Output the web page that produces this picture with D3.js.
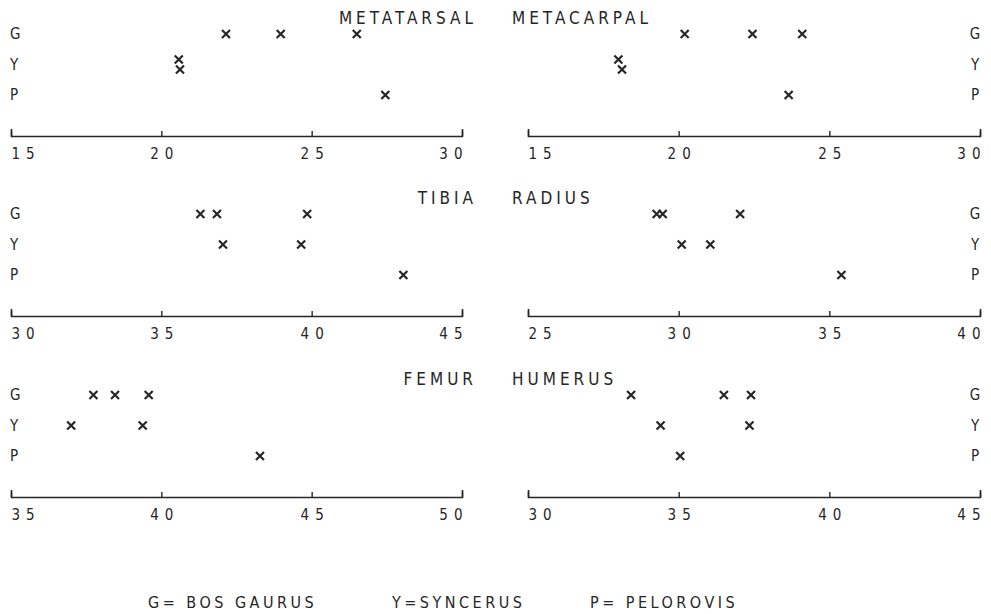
<!DOCTYPE html>
<html>
<head>
<meta charset="utf-8">
<script src="https://cdn.jsdelivr.net/npm/d3@7"></script>
<style>
  html, body { margin: 0; padding: 0; background: #fff; }
  svg { display: block; }
  text { font-family: "DejaVu Sans Condensed", "DejaVu Sans", sans-serif; fill: #262626; }
</style>
</head>
<body>
<svg id="chart" width="991" height="614"></svg>
<script>
// Bone length measurements (cm) for three bovid genera
const boneNames = ["METATARSAL", "METACARPAL", "TIBIA", "RADIUS", "FEMUR", "HUMERUS"];
const axisDomains = [[15, 30], [15, 30], [30, 45], [25, 40], [35, 50], [30, 45]];
const tickLabels = [
  [15, 20, 25, 30],
  [15, 20, 25, 30],
  [30, 35, 40, 45],
  [25, 30, 35, 40],
  [35, 40, 45, 50],
  [30, 35, 40, 45]
];
const rowKeys = ["G", "Y", "P"];
const gaurus = [
  [22.15, 23.97, 26.5],
  [20.2, 22.45, 24.1],
  [36.3, 36.85, 39.85],
  [29.27, 29.47, 32.04],
  [37.74, 38.46, 39.58],
  [33.42, 36.5, 37.4]
];
const syncerus = [
  [20.58, 20.62],
  [18.0, 18.12],
  [37.05, 39.65],
  [30.1, 31.05],
  [37.0, 39.38],
  [34.4, 37.35]
];
const pelorovis = [[27.45], [23.65], [43.05], [35.4], [43.28], [35.05]];
const legendItems = ["G= BOS GAURUS", "Y=SYNCERUS", "P= PELOROVIS"];

const ink = "#262626";
const svg = d3.select("#chart");

// layout of the 3x2 grid of strip plots
const colX = [[11, 462], [528, 980]];
const rowAxisY = [136, 316, 497];
const tickLs = 6;     // letter spacing of axis numbers
const titleLs = 4;    // letter spacing of bone titles

boneNames.forEach((name, i) => {
  const col = i % 2, row = Math.floor(i / 2);
  const axisY = rowAxisY[row];
  const x = d3.scaleLinear().domain(axisDomains[i]).range(colX[col]);
  const y = d3.scalePoint().domain(rowKeys).range([axisY - 102, axisY - 41]);
  const g = svg.append("g");

  // axis: ticks pointing up, numbers below
  const axis = d3.axisBottom(x)
    .tickValues(tickLabels[i])
    .tickFormat(d3.format("d"))
    .tickSizeInner(-5)
    .tickSizeOuter(-7)
    .tickPadding(12);
  const ax = g.append("g").attr("transform", `translate(0,${axisY})`).call(axis);
  ax.select(".domain").attr("stroke", ink).attr("stroke-width", 1.6);
  ax.selectAll(".tick line").attr("stroke", ink).attr("stroke-width", 1.4);
  const n = tickLabels[i].length;
  ax.selectAll(".tick text")
    .attr("fill", ink)
    .style("font-size", "15px")
    .style("letter-spacing", tickLs + "px")
    .style("font-family", '"DejaVu Sans Condensed", "DejaVu Sans", sans-serif')
    .each(function (d, k) {
      const t = d3.select(this);
      if (k === 0) t.attr("text-anchor", "start").attr("x", 0);
      else if (k === n - 1) t.attr("text-anchor", "end").attr("x", tickLs);
      else t.attr("x", tickLs / 2);
    });

  // bone title
  g.append("text")
    .attr("x", col === 0 ? 473 + titleLs : 512)
    .attr("y", axisY - 112)
    .attr("text-anchor", col === 0 ? "end" : "start")
    .style("font-size", "17px")
    .style("letter-spacing", titleLs + "px")
    .text(name);

  // row letters
  g.selectAll("text.rowlab").data(rowKeys).join("text")
    .attr("class", "rowlab")
    .attr("x", col === 0 ? 10 : 975)
    .attr("y", d => y(d) + 5)
    .attr("text-anchor", col === 0 ? "start" : "middle")
    .style("font-size", "15px")
    .text(d => d);

  // marks; near-coincident values in a row are stacked vertically
  const series = { G: gaurus[i], Y: syncerus[i], P: pelorovis[i] };
  const pts = [];
  rowKeys.forEach(k => {
    const vals = series[k].slice().sort((a, b) => a - b);
    vals.forEach((v, j) => {
      let off = 0;
      if (j > 0 && Math.abs(x(v) - x(vals[j - 1])) < 5) off = 5;
      if (j < vals.length - 1 && Math.abs(x(vals[j + 1]) - x(v)) < 5) off = -5;
      pts.push({ v, k, off });
    });
  });
  const s = 4;
  g.selectAll("path.mark").data(pts).join("path")
    .attr("class", "mark")
    .attr("transform", d => `translate(${x(d.v)},${y(d.k) + d.off})`)
    .attr("d", `M${-s},${-s}L${s},${s}M${-s},${s}L${s},${-s}`)
    .attr("stroke", ink)
    .attr("stroke-width", 2.2)
    .attr("fill", "none");
});

// key to the letters
const legendX = [148, 392, 590];
svg.selectAll("text.key").data(legendItems).join("text")
  .attr("class", "key")
  .attr("x", (d, i) => legendX[i])
  .attr("y", 608)
  .style("font-size", "16px")
  .style("letter-spacing", "3.5px")
  .text(d => d);
</script>
</body>
</html>
